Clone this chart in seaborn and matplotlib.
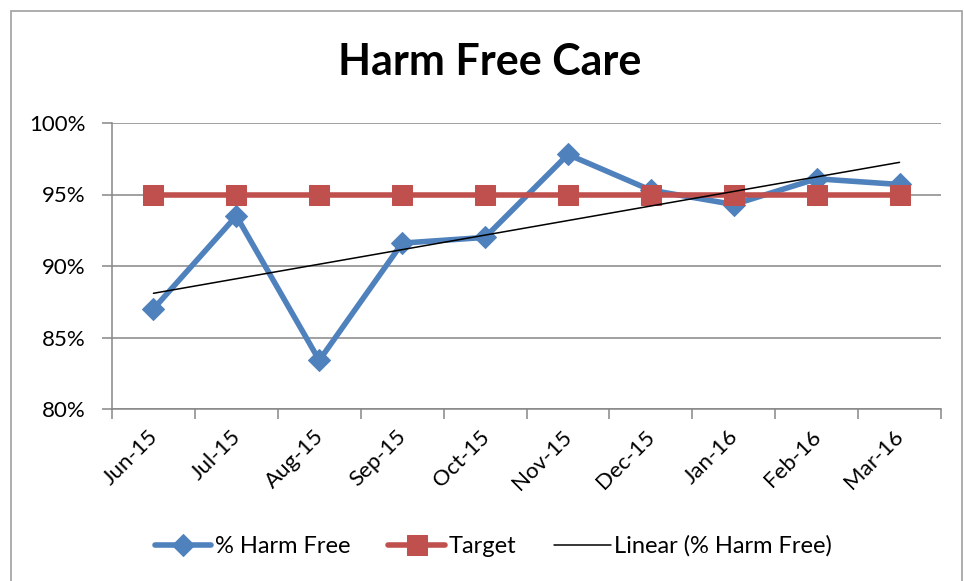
import numpy as np
import pandas as pd
import matplotlib.pyplot as plt
import seaborn as sns
from matplotlib.patches import Rectangle
from matplotlib.ticker import FuncFormatter
from matplotlib.transforms import ScaledTranslation

months = ["Jun-15", "Jul-15", "Aug-15", "Sep-15", "Oct-15",
          "Nov-15", "Dec-15", "Jan-16", "Feb-16", "Mar-16"]
harm_free = [87.0, 93.5, 83.4, 91.6, 92.0, 97.8, 95.3, 94.3, 96.1, 95.7]
target = [95.0] * 10

df = pd.DataFrame({"idx": np.arange(len(months)), "month": months,
                   "harm_free": harm_free, "target": target})

sns.set_style("white")
plt.rcParams["font.family"] = ["Lato", "DejaVu Sans"]
plt.rcParams["text.color"] = "black"
plt.rcParams["xtick.color"] = "black"
plt.rcParams["ytick.color"] = "black"

fig = plt.figure(figsize=(9.64, 5.81), dpi=100)
ax = fig.add_axes([112 / 964, 1 - 409 / 581, (941 - 112) / 964, (409 - 123) / 581])

blue = "#4F81BD"
red = "#C0504D"

sns.lineplot(data=df, x="idx", y="harm_free", ax=ax, color=blue, lw=4,
             marker="D", markersize=11, markeredgecolor=blue, label="% Harm Free")
sns.lineplot(data=df, x="idx", y="target", ax=ax, color=red, lw=4,
             marker="s", markersize=14, markeredgecolor=red, label="Target")
sns.regplot(data=df, x="idx", y="harm_free", ax=ax, scatter=False, ci=None,
            truncate=True, line_kws={"color": "black", "lw": 1.1},
            label="Linear (% Harm Free)")

ax.set_xlim(-0.5, 9.5)
ax.set_ylim(80, 100)
ax.set_yticks([80, 85, 90, 95, 100])
ax.yaxis.set_major_formatter(FuncFormatter(lambda v, p: f"{v:.0f}%"))
ax.yaxis.grid(True, color="#868686", lw=1.1)
ax.set_axisbelow(True)

ax.set_xticks(df["idx"])
ax.set_xticklabels(months, rotation=45, ha="right", rotation_mode="anchor")
# category boundary ticks like Excel
ax.set_xticks(np.arange(-0.5, 10, 1), minor=True)
ax.tick_params(axis="x", which="major", length=0, labelsize=16, pad=14,
               labelcolor="black")
ax.tick_params(axis="x", which="minor", length=7, width=1.1, color="#868686",
               direction="out", bottom=True)
ax.tick_params(axis="y", length=7, width=1.1, color="#868686", left=True,
               labelsize=16, pad=12, labelcolor="black")
shift = ScaledTranslation(-6 / 100, 2 / 100, fig.dpi_scale_trans)
for lbl in ax.get_xticklabels():
    lbl.set_transform(lbl.get_transform() + shift)

ax.set_xlabel("")
ax.set_ylabel("")
for side in ["top", "right"]:
    ax.spines[side].set_visible(False)
for side in ["left", "bottom"]:
    ax.spines[side].set_color("#868686")
    ax.spines[side].set_linewidth(1.1)

fig.text(490 / 964, 1 - 62 / 581, "Harm Free Care", ha="center", va="center",
         fontsize=31, fontweight="bold", color="black")

handles, labels = ax.get_legend_handles_labels()
ax.legend(handles, labels, loc="center", bbox_to_anchor=(0.46, -0.48),
          ncol=3, frameon=False, fontsize=17, handlelength=2.4,
          columnspacing=1.6, handletextpad=0.15)

fig.add_artist(Rectangle((11 / 964, -0.05), (962 - 11) / 964, 1.05 - 11 / 581,
                         transform=fig.transFigure, fill=False,
                         edgecolor="#a0a0a0", lw=1.2))

fig.savefig("out.png", dpi=100)
